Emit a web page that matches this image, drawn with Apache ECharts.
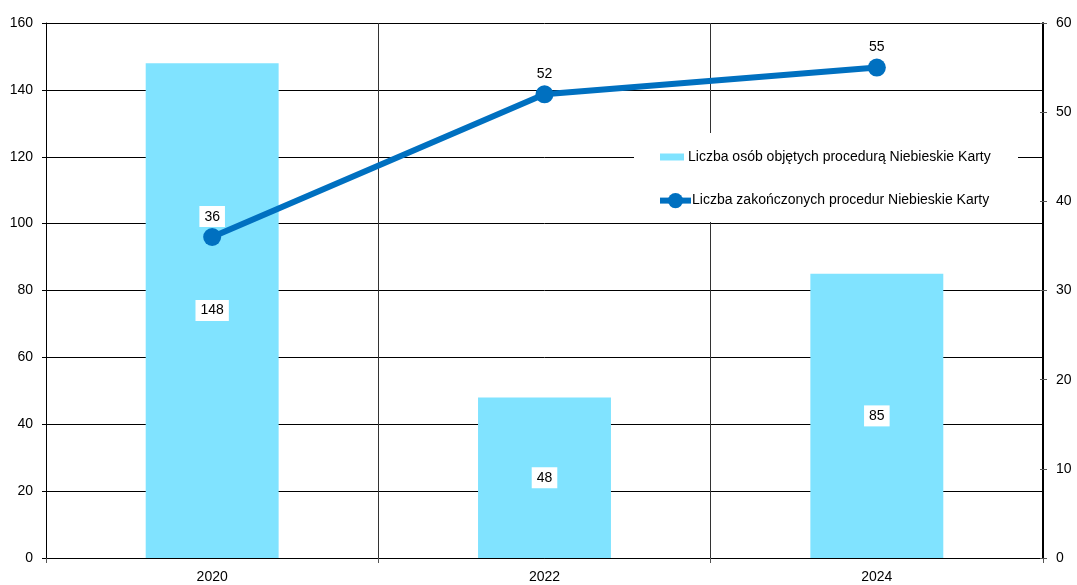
<!DOCTYPE html>
<html>
<head>
<meta charset="utf-8">
<script src="https://cdn.jsdelivr.net/npm/echarts@6/dist/echarts.min.js"></script>
<style>
  html, body { margin: 0; padding: 0; background: #ffffff; }
  #chart { width: 1077px; height: 585px; }
</style>
</head>
<body>
<div id="chart"></div>
<script>
// Data
const years = ['2020', '2022', '2024'];
const personsCovered = [148, 48, 85];      // left axis (bars)
const proceduresClosed = [36, 52, 55];     // right axis (line)
const barName = 'Liczba osób objętych procedurą Niebieskie Karty';
const lineName = 'Liczba zakończonych procedur Niebieskie Karty';

const FONT = '"Liberation Sans", Arial, sans-serif';
const FS = 14;
const BAR_COLOR = '#80E3FF';
const LINE_COLOR = '#0070C0';

const chart = echarts.init(document.getElementById('chart'), null, { renderer: 'canvas' });

chart.setOption({
  animation: false,
  backgroundColor: '#ffffff',
  textStyle: { fontFamily: FONT },
  grid: { left: 46, right: 34, top: 23, bottom: 27, containLabel: false },
  legend: [
    {
      data: [barName],
      left: 655, top: 145,
      itemWidth: 24, itemHeight: 7, itemGap: 4,
      textStyle: { fontSize: FS, color: '#000', fontFamily: FONT, padding: [0, 0, 0, -1] },
      icon: 'rect',
      selectedMode: false,
      z: 10
    },
    {
      data: [lineName],
      left: 652, top: 188,
      itemWidth: 31, itemHeight: 19, itemGap: 4,
      lineStyle: { width: 6 },
      textStyle: { fontSize: FS, color: '#000', fontFamily: FONT, padding: [0, 0, 0, -4] },
      selectedMode: false,
      z: 10
    }
  ],
  graphic: [
    {
      type: 'rect',
      shape: { x: 634, y: 133, width: 384, height: 89 },
      style: { fill: '#ffffff' },
      z: 5,
      silent: true
    }
  ],
  xAxis: {
    type: 'category',
    data: years,
    boundaryGap: true,
    axisLine: { show: true, lineStyle: { color: '#000', width: 1 } },
    axisTick: { show: true, length: 5, lineStyle: { color: '#555' } },
    axisLabel: { fontSize: FS, color: '#000', margin: 12, fontFamily: FONT },
    splitLine: { show: true, lineStyle: { color: '#333', width: 1 } }
  },
  yAxis: [
    {
      type: 'value',
      min: 0, max: 160, interval: 20,
      position: 'left',
      axisLine: { show: true, lineStyle: { color: '#000', width: 1 } },
      axisTick: { show: true, length: 4, lineStyle: { color: '#000' } },
      axisLabel: { fontSize: FS, color: '#000', margin: 13, fontFamily: FONT },
      splitLine: { show: true, lineStyle: { color: '#000', width: 1 } }
    },
    {
      type: 'value',
      min: 0, max: 60, interval: 10,
      position: 'right',
      axisLine: { show: true, lineStyle: { color: '#000', width: 2 } },
      axisTick: { show: true, length: 4, lineStyle: { color: '#555' } },
      axisLabel: { fontSize: FS, color: '#000', margin: 13, fontFamily: FONT },
      splitLine: { show: false }
    },
    {
      // inner half of the right-hand tick marks
      type: 'value',
      min: 0, max: 60, interval: 10,
      position: 'right',
      axisLine: { show: false },
      axisTick: { show: true, inside: true, length: 3, lineStyle: { color: '#555' } },
      axisLabel: { show: false },
      splitLine: { show: false }
    }
  ],
  series: [
    {
      name: barName,
      type: 'bar',
      data: personsCovered,
      yAxisIndex: 0,
      barWidth: '40%',
      itemStyle: { color: BAR_COLOR },
      z: 2,
      label: {
        show: true,
        position: 'inside',
        color: '#000',
        fontSize: FS,
        fontFamily: FONT,
        backgroundColor: '#ffffff',
        padding: [4, 5, 3, 5]
      }
    },
    {
      name: lineName,
      type: 'line',
      data: proceduresClosed,
      yAxisIndex: 1,
      symbol: 'circle',
      symbolSize: 18,
      lineStyle: { color: LINE_COLOR, width: 6 },
      itemStyle: { color: LINE_COLOR },
      z: 4,
      label: {
        show: true,
        position: 'top',
        distance: 1,
        color: '#000',
        fontSize: FS,
        fontFamily: FONT,
        backgroundColor: '#ffffff',
        padding: [4, 5, 3, 5]
      }
    }
  ]
});
</script>
</body>
</html>
